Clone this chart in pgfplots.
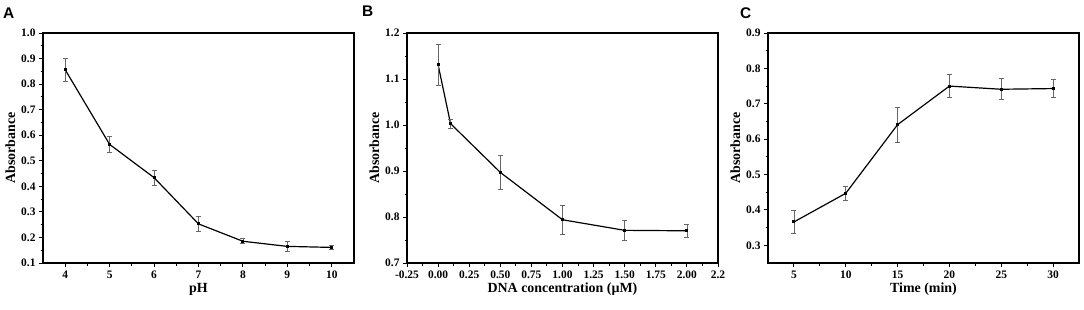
\documentclass[border=0pt]{standalone}
\usepackage{fontspec}
\setmainfont{Liberation Serif}
\newfontfamily\panelfont{Liberation Sans}
\usepackage{pgfplots}
\usepackage{pgfplotstable}
\pgfplotsset{compat=1.18}

\pgfplotstableread{
x y e
4 0.856 0.045
5 0.564 0.032
6 0.434 0.030
7 0.253 0.028
8 0.185 0.010
9 0.165 0.021
10 0.161 0.007
}\dataA
\pgfplotstableread{
x y e
0 1.131 0.045
0.1 1.003 0.010
0.5 0.897 0.036
1.0 0.794 0.032
1.5 0.771 0.022
2.0 0.770 0.015
}\dataB
\pgfplotstableread{
x y e
5 0.366 0.033
10 0.447 0.019
15 0.641 0.050
20 0.750 0.032
25 0.741 0.030
30 0.743 0.025
}\dataC

\pgfplotsset{
  panel/.style={
    scale only axis, width=311bp, height=230bp,
    anchor=south west,
    axis line style={line width=1.2pt},
    tick align=outside, xtick pos=bottom, ytick pos=left,
    major tick length=4bp, minor tick length=2.5bp,
    every tick/.style={black, line width=1pt},
    minor tick num=1,
    tick label style={font=\fontsize{11.5}{13}\selectfont\bfseries},
    /pgf/number format/assume math mode=true,
    yticklabel style={/pgf/number format/.cd, fixed, fixed zerofill, precision=1, assume math mode=true},
    xlabel style={font=\fontsize{14}{16}\selectfont\bfseries, yshift=2bp},
    ylabel style={font=\fontsize{14}{16}\selectfont\bfseries, yshift=-1bp},
    ylabel={Absorbance},
  },
  dataline/.style={
    black, line width=1.2pt, mark=square*, mark size=0.9bp,
    mark options={solid},
    error bars/.cd, y dir=both, y explicit,
    error bar style={draw=black!60, line width=0.8pt},
    error mark options={rotate=90, mark size=2.5bp, draw=black!60, line width=0.8pt},
  },
}

\begin{document}
\begin{tikzpicture}
\path[use as bounding box] (0,0) rectangle (1084bp,310bp);

\begin{axis}[panel, at={(43bp,47bp)},
  xmin=3.5, xmax=10.5, ymin=0.1, ymax=1.0,
  xtick={4,5,...,10}, ytick={0.1,0.2,...,1.0},
  xlabel={pH}]
\addplot+[dataline] table[x=x, y=y, y error=e] {\dataA};
\end{axis}

\begin{axis}[panel, at={(407bp,47bp)},
  xmin=-0.25, xmax=2.25, ymin=0.7, ymax=1.2,
  xtick={-0.25,0,0.25,0.5,0.75,1.0,1.25,1.5,1.75,2.0,2.25},
  xticklabels={-0.25,0.00,0.25,0.50,0.75,1.00,1.25,1.50,1.75,2.00,2.2},
  ytick={0.7,0.8,...,1.2},
  xlabel={DNA concentration (µM)}]
\addplot+[dataline] table[x=x, y=y, y error=e] {\dataB};
\end{axis}

\begin{axis}[panel, at={(768bp,47bp)},
  xmin=2.5, xmax=32.5, ymin=0.25, ymax=0.9,
  xtick={5,10,...,30}, ytick={0.3,0.4,...,0.9},
  xlabel={Time (min)}]
\addplot+[dataline] table[x=x, y=y, y error=e] {\dataC};
\end{axis}

\node[anchor=base west, inner sep=0pt, font=\panelfont\bfseries\fontsize{15.5}{18}\selectfont] at (3bp,291bp) {A};
\node[anchor=base west, inner sep=0pt, font=\panelfont\bfseries\fontsize{15.5}{18}\selectfont] at (362bp,293bp) {B};
\node[anchor=base west, inner sep=0pt, font=\panelfont\bfseries\fontsize{15.5}{18}\selectfont] at (740bp,291bp) {C};
\end{tikzpicture}
\end{document}
